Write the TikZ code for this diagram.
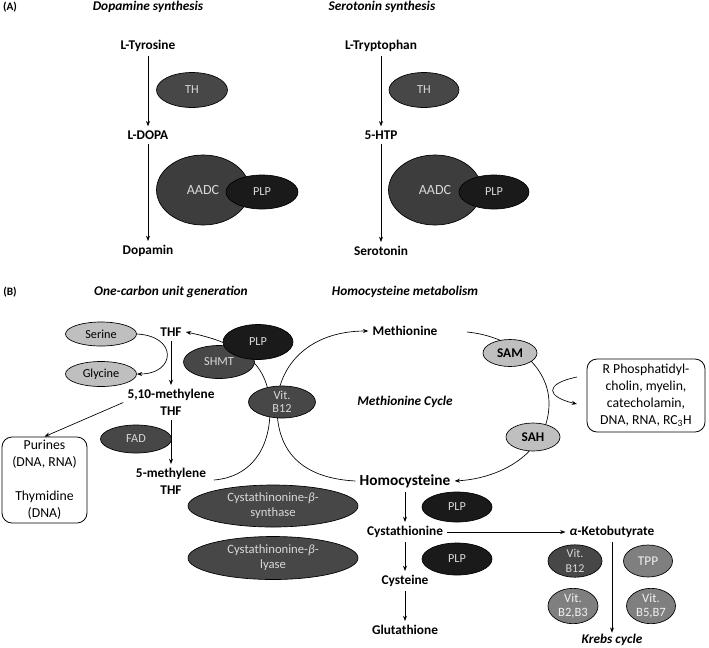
\documentclass[tikz,border=0pt]{standalone}
\usepackage{fontspec}
\setmainfont{Carlito}
\usetikzlibrary{shapes.geometric,arrows.meta}
\definecolor{dk}{HTML}{474747}
\definecolor{dkb}{HTML}{3D3D3D}
\definecolor{plp}{HTML}{1A1A1A}
\definecolor{lt}{HTML}{BFBFBF}
\definecolor{md}{HTML}{7F7F7F}
\definecolor{dktxt}{HTML}{D9D9D9}
\definecolor{mdtxt}{HTML}{F0F0F0}
\begin{document}
\begin{tikzpicture}[x=0.75pt,y=-0.75pt,
  lbl/.style={font=\fontsize{10}{12.75}\selectfont\bfseries, inner sep=3pt, align=center},
  hd/.style={font=\fontsize{10}{12}\selectfont\bfseries\itshape, inner sep=1pt},
  tag/.style={font=\fontsize{8.5}{10}\selectfont\bfseries, inner sep=1pt},
  sz/.style 2 args={minimum width={#1*0.75pt}, minimum height={#2*0.75pt}},
  el/.style={ellipse, draw=black, line width=0.5pt, inner sep=0pt, align=center,
    font=\fontsize{9.2}{9.75}\selectfont},
  dkel/.style={el, fill=dk, text=dktxt},
  plpel/.style={el, fill=plp, text=dktxt},
  ltel/.style={el, fill=lt, text=black},
  mdel/.style={el, fill=md, text=mdtxt, font=\fontsize{9.5}{11}\selectfont},
  rbox/.style={draw=black, line width=0.6pt, rounded corners=7.5pt, align=center,
    inner sep=0pt, font=\fontsize{10.3}{12.75}\selectfont},
  arr/.style={-{Stealth[length=4pt,width=3pt]}, line width=0.5pt},
  ln/.style={line width=0.5pt}
]
\useasboundingbox (0,0) rectangle (709,647);

% ---------- (A) ----------
\node[tag] (tA) at (10,7) {(A)};
\node[hd] (hdopa) at (148,7) {Dopamine synthesis};
\node[hd] (hsero) at (382,7) {Serotonin synthesis};

\node[lbl] (tyr) at (148,46) {L-Tyrosine};
\node[lbl] (dopa) at (148,135) {L-DOPA};
\node[lbl] (dopamin) at (148,251) {Dopamin};
\draw[arr] (tyr) -- (dopa);
\draw[arr] (dopa) -- (dopamin);
\node[dkel, sz={71}{35}] (th1) at (192,90) {TH};
\node[dkel, fill=dkb, sz={93}{70}, font=\fontsize{10.5}{12}\selectfont] (aadc1) at (203,190) {AADC};
\node[plpel, sz={72}{34}] (plp1) at (262,192) {PLP};

\node[lbl] (trp) at (381,46) {L-Tryptophan};
\node[lbl] (htp) at (381,135) {5-HTP};
\node[lbl] (sero) at (381,251) {Serotonin};
\draw[arr] (trp) -- (htp);
\draw[arr] (htp) -- (sero);
\node[dkel, sz={70}{35}] (th2) at (424,90) {TH};
\node[dkel, fill=dkb, sz={93}{70}, font=\fontsize{10.5}{12}\selectfont] (aadc2) at (435,190) {AADC};
\node[plpel, sz={70}{34}] (plp2) at (494,192) {PLP};

% ---------- (B) ----------
\node[tag] (tB) at (10,292) {(B)};
\node[hd] (hone) at (171,292) {One-carbon unit generation};
\node[hd] (hhcy) at (405,292) {Homocysteine metabolism};

\node[lbl] (thf) at (171,332) {THF};
\node[lbl] (m510) at (171,402.5) {5,10-methylene\\THF};
\node[lbl] (m5) at (171,481.5) {5-methylene\\THF};
\node[lbl] (met) at (405,331) {Methionine};
\node[hd] (mcyc) at (405,402) {Methionine Cycle};
\node[lbl, font=\fontsize{11.5}{13}\selectfont\bfseries] (hcy) at (405,481) {Homocysteine};

\coordinate (c5m) at (214,480);
\coordinate (mst) at (467,332);
\coordinate (hk1) at (577,377);
\coordinate (hk2) at (577,404);

% curves under the ellipses
\draw[arr] (c5m) .. controls (250,477) and (270,450) .. (270,410)
  .. controls (270,370) and (250,345) .. (thf.east);
\draw[arr] (hcy.west) .. controls (300,478) and (278,450) .. (277,410)
  .. controls (276,365) and (310,331) .. (met.west);
\draw[arr] (mst) .. controls (510,336) and (550,365) .. (549,405)
  .. controls (548,450) and (505,478) .. (hcy.east);
\draw[arr] (hk1) .. controls (543,384) and (547,397) .. (hk2);

\draw[arr] (thf) -- (m510);
\draw[arr] (m510) -- (m5);

\node[ltel, sz={71}{24}] (serine) at (101,334) {Serine};
\node[ltel, sz={71}{25}] (glycine) at (101,374) {Glycine};
\draw[arr] (serine.east) .. controls (178,336) and (176,374) .. (glycine.east);

\node[dkel, sz={71}{28}] (fad) at (136,439) {FAD};
\node[rbox, minimum width=63.75pt, minimum height=64.5pt] (pur) at (44.5,480)
  {Purines\\(DNA, RNA)\\[12.75pt]Thymidine\\(DNA)};
\draw[arr] (m510.west) -- (pur.north);

\node[dkel, sz={71}{33}] (shmt) at (219,362) {SHMT};
\node[plpel, sz={70}{35}] (plpB) at (258,342) {PLP};
\node[dkel, sz={67}{32}] (b12) at (282,402) {Vit.\\B12};

\node[ltel, sz={54}{27}, font=\fontsize{10}{12}\selectfont\bfseries] (sam) at (510,353) {SAM};
\node[ltel, sz={54}{28}, font=\fontsize{10}{12}\selectfont\bfseries] (sah) at (533,437) {SAH};
\node[rbox, minimum width=88.5pt, minimum height=54.75pt] (rb) at (646,395.5)
  {R Phosphatidyl-\\cholin, myelin,\\catecholamin,\\DNA, RNA, RC\textsubscript{3}H};

\node[dkel, sz={170}{42}, font=\fontsize{9.5}{11.25}\selectfont] (cbs) at (273,506) {Cystathinonine-\textit{β}-\\synthase};
\node[dkel, sz={170}{43}, font=\fontsize{9.5}{11.25}\selectfont] (cbl) at (273,558) {Cystathinonine-\textit{β}-\\lyase};

\node[lbl] (cysta) at (405,532) {Cystathionine};
\node[lbl] (cys) at (405,581) {Cysteine};
\node[lbl] (glu) at (405,630) {Glutathione};
\node[lbl] (akb) at (612,532) {\textit{α}-Ketobutyrate};
\node[hd] (krebs) at (612,640) {Krebs cycle};
\draw[arr] (hcy) -- (cysta);
\draw[arr] (cysta) -- (cys);
\draw[arr] (cys) -- (glu);
\draw[arr] (cysta) -- (akb);
\draw[arr] (akb) -- (krebs);

\node[plpel, sz={70}{30}] (plpa) at (457,507) {PLP};
\node[plpel, sz={70}{32}] (plpb) at (457,559) {PLP};

\node[dkel, sz={54}{32}, font=\fontsize{9}{11}\selectfont] (vb12) at (575,561) {Vit.\\B12};
\node[mdel, sz={49}{32}, font=\fontsize{10}{12}\selectfont] (tpp) at (648,561) {TPP};
\node[mdel, sz={50}{33}] (b23) at (573,606) {Vit.\\B2,B3};
\node[mdel, sz={49}{33}] (b57) at (651,606) {Vit.\\B5,B7};
\end{tikzpicture}
\end{document}
